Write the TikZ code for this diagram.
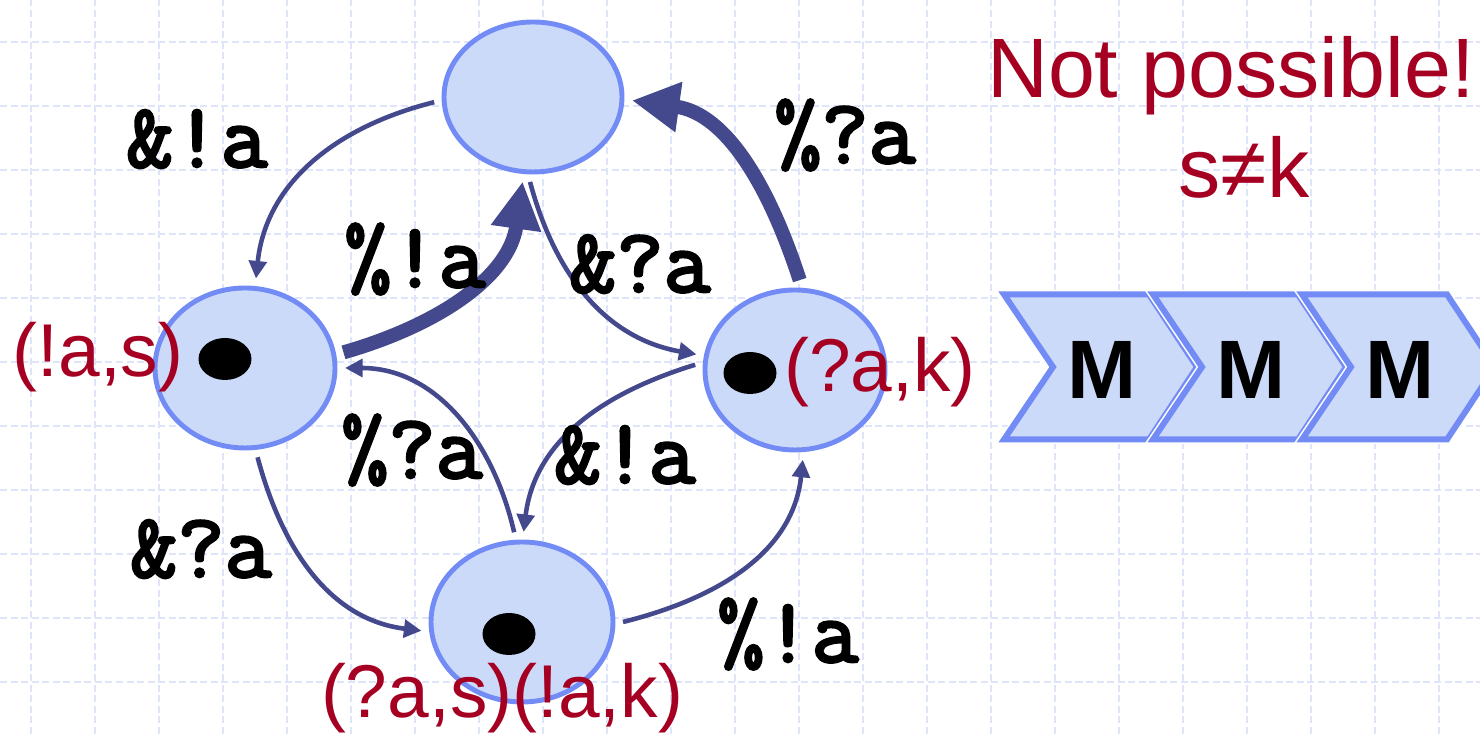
\documentclass[tikz,border=0pt]{standalone}
\usepackage{fontspec}
\setmainfont{Liberation Sans}
\newfontfamily\codefont{Latin Modern Mono}[FakeBold=3]
\usepackage{tikz}
\usetikzlibrary{shapes.geometric}
\usetikzlibrary{arrows.meta}

\definecolor{gridblue}{RGB}{222,228,250}
\definecolor{statefill}{RGB}{204,218,250}
\definecolor{stateline}{RGB}{115,140,245}
\definecolor{edgeblue}{RGB}{67,73,140}
\definecolor{darkred}{RGB}{165,0,33}

\tikzset{
  gridline/.style={draw=gridblue, line width=0.6pt, dash pattern=on 2pt off 1pt, step=0.64},
  state/.style={ellipse, draw=stateline, fill=statefill, line width=1.4pt,
    minimum width=1.8cm, minimum height=1.6cm, inner sep=0pt, outer sep=0.1cm},
  token/.style={ellipse, fill=black, minimum width=0.53cm, minimum height=0.42cm, inner sep=0pt},
  move/.style={draw=edgeblue, line width=1.3pt, -{Triangle[length=5pt,width=5pt]}},
  bigmove/.style={draw=edgeblue, line width=4pt, -{Triangle[length=13.5pt,width=13.5pt]}},
  act/.style={font=\codefont\fontsize{26}{28}\selectfont, anchor=base, inner sep=0pt},
  loc/.style={text=darkred, font=\fontsize{21.3}{24}\selectfont, anchor=base, inner sep=0pt},
  stage/.style={draw=stateline, fill=statefill, line width=1.7pt,
    preaction={draw=white, line width=2.6pt}},
}

\begin{document}
\begin{tikzpicture}
      \useasboundingbox (0,0) rectangle (14.8,7.34);
      \draw[gridline, shift={(0.31,0.52)}] (-0.31,-0.52) grid (14.49,6.82);

      % states
      \node[state, minimum width=1.78cm, minimum height=1.5cm] (top) at (5.33,6.37){};
      \node[state] (left) at (2.45,3.66){};
      \node[state] (right) at (7.95,3.64){};
      \node[state, minimum width=1.82cm] (bot) at (5.22,1.12){};

      \node[token] (tl) at (2.25,3.75){};
      \node[token] (tr) at (7.50,3.61){};
      \node[token] (tb) at (5.09,1.00){};

      % moves
      \draw[move] (top.183) to[out=194,in=84] (left.83);
      \draw[bigmove] (left.9) to[out=16,in=262] (top.263);
      \draw[move] (top.268) to[out=285,in=170] (right.171);
      \draw[bigmove] (right.87) to[out=108,in=352] (top.358);
      \draw[move] (left.278) to[out=285,in=173] (bot.185);
      \draw[move] (bot.0) to[out=14,in=264] (right.275);
      \draw[move] (bot.95) to[out=103,in=0] (left.0);
      \draw[move] (right.177) to[out=197,in=83] (bot.89);

      \node[act] (a1) at (1.97,5.67){\&!a};
      \node[act] (a2) at (4.15,4.47){\%!a};
      \node[act] (a3) at (8.45,5.71){\%?a};
      \node[act] (a4) at (6.40,4.42){\&?a};
      \node[act] (a5) at (4.12,2.56){\%?a};
      \node[act] (a6) at (6.25,2.51){\&!a};
      \node[act] (a7) at (2.01,1.57){\&?a};
      \node[act] (a8) at (7.88,0.72){\%!a};

      \node[loc] (ls) at (0.98,3.57){(!a,s)};
      \node[loc] (lk) at (8.80,3.42){(?a,k)};
      \node[loc] (lb) at (5.02,0.16){(?a,s)(!a,k)};

      \node[loc, font=\fontsize{24}{28}\selectfont] (no) at (12.31,6.36){Not possible!};
      \node[loc, font=\fontsize{24}{28}\selectfont] (sk) at (12.44,5.36){s≠k};

      % the three M stages
      \foreach \i in {0,1,2}{
        \draw[stage, shift={(1.49*\i,0)}] (10.04,4.395) -- ++(1.45,0) -- ++(0.48,-0.725)
          -- ++(-0.48,-0.725) -- ++(-1.45,0) -- ++(0.49,0.725) -- cycle;
        \node[font=\bfseries\fontsize{23.6}{26}\selectfont] (m\i) at (11.02+1.49*\i,3.64){M};
      }
    \end{tikzpicture}
\end{document}
